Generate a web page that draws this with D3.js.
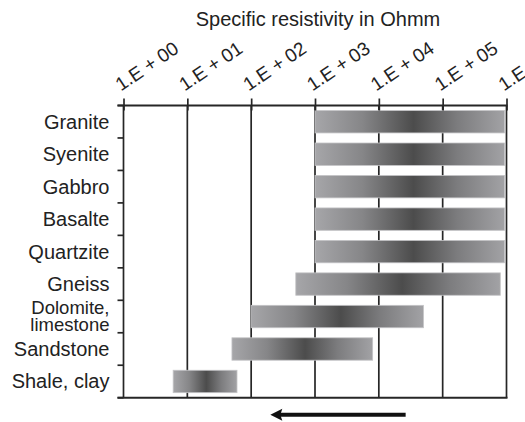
<!DOCTYPE html>
<html>
<head>
<meta charset="utf-8">
<script src="https://cdn.jsdelivr.net/npm/d3@7"></script>
<style>
  html, body { margin: 0; padding: 0; background: #fff; }
  svg { display: block; font-family: "Liberation Sans", Arial, sans-serif; }
</style>
</head>
<body>
<svg id="chart" width="525" height="422"></svg>
<script>
const categories = ["Granite", "Syenite", "Gabbro", "Basalte", "Quartzite", "Gneiss", "Dolomite,\nlimestone", "Sandstone", "Shale, clay"];
const minValues = [1e3, 1e3, 1e3, 1e3, 1e3, 500, 100, 50, 6];
const maxValues = [9.3e5, 9.3e5, 9.3e5, 9.3e5, 9.3e5, 8e5, 5e4, 8e3, 60];
const tickValues = [1e0, 1e1, 1e2, 1e3, 1e4, 1e5, 1e6];
const tickLabels = ["1.E + 00", "1.E + 01", "1.E + 02", "1.E + 03", "1.E + 04", "1.E + 05", "1.E + 06"];
const title = "Specific resistivity in Ohmm";

const svg = d3.select("#chart");
const mLeft = 123.5, mRight = 506.5, mTop = 105.5, mBottom = 397.7;

const x = d3.scaleLog().domain([1, 1e6]).range([mLeft, mRight]);
const y = d3.scaleBand().domain(categories).range([mTop, mBottom]).paddingInner(0.31).paddingOuter(0.155);

const ink = "#262626";

// gridlines (vertical)
svg.append("g").selectAll("line").data(tickValues).join("line")
  .attr("x1", d => x(d)).attr("x2", d => x(d))
  .attr("y1", mTop).attr("y2", mBottom)
  .attr("stroke", ink).attr("stroke-width", 1.7);

// gradient
const defs = svg.append("defs");
const grad = defs.append("linearGradient").attr("id", "barGrad").attr("x1", "0").attr("x2", "1").attr("y1", "0").attr("y2", "0");
grad.append("stop").attr("offset", "0").attr("stop-color", "#a6a6a9");
grad.append("stop").attr("offset", "0.25").attr("stop-color", "#868688");
grad.append("stop").attr("offset", "0.52").attr("stop-color", "#4c4c4c");
grad.append("stop").attr("offset", "0.75").attr("stop-color", "#7c7c7e");
grad.append("stop").attr("offset", "1").attr("stop-color", "#a2a2a5");

// bars
svg.append("g").selectAll("rect").data(categories).join("rect")
  .attr("x", (d, i) => x(minValues[i]))
  .attr("width", (d, i) => x(maxValues[i]) - x(minValues[i]))
  .attr("y", d => y(d))
  .attr("height", y.bandwidth())
  .attr("fill", "url(#barGrad)")
  .attr("stroke", "#c4c4c6").attr("stroke-width", 0.8);

// top axis
const topAxis = d3.axisTop(x).tickValues(tickValues).tickFormat((d, i) => tickLabels[i]).tickSizeInner(7).tickSizeOuter(0);
const gTop = svg.append("g").attr("transform", `translate(0,${mTop})`).call(topAxis);
gTop.select(".domain").remove();
gTop.selectAll(".tick line").attr("stroke", ink).attr("stroke-width", 1.7).attr("y2", -7).attr("y1", 5);
gTop.selectAll(".tick text")
  .attr("fill", "#222").attr("font-size", 19).attr("text-anchor", "start")
  .attr("y", 0).attr("dy", 0)
  .attr("transform", "translate(-3,-14) rotate(-34)");

// horizontal frame lines (top and bottom)
svg.append("g").selectAll("line").data([mTop, mBottom]).join("line")
  .attr("x1", mLeft - 6).attr("x2", mRight + 1).attr("y1", d => d).attr("y2", d => d)
  .attr("stroke", ink).attr("stroke-width", 2);

// left category ticks at band boundaries
const boundaries = d3.range(categories.length + 1).map(i => mTop + i * (mBottom - mTop) / categories.length);
svg.append("g").selectAll("line").data(boundaries).join("line")
  .attr("x1", mLeft - 6).attr("x2", mLeft).attr("y1", d => d).attr("y2", d => d)
  .attr("stroke", ink).attr("stroke-width", 1.7);

// category labels
const lab = svg.append("g").selectAll("text").data(categories).join("text")
  .attr("text-anchor", "end").attr("font-size", 20).attr("fill", "#222")
  .attr("x", mLeft - 14);
lab.each(function(d) {
  const t = d3.select(this);
  const c = y(d) + y.bandwidth() / 2;
  const lines = d.split("\n");
  if (lines.length === 1) {
    t.attr("y", c).attr("dy", "0.35em").text(d);
  } else {
    t.attr("font-size", 18.5);
    t.append("tspan").attr("x", mLeft - 14).attr("y", c - 3).text(lines[0]);
    t.append("tspan").attr("x", mLeft - 14).attr("y", c + 14).text(lines[1]);
  }
});

// title
svg.append("text").attr("x", (mLeft + mRight) / 2 + 3).attr("y", 26)
  .attr("text-anchor", "middle").attr("font-size", 20).attr("fill", "#222").text(title);

// arrow (decorative, pointing toward lower resistivity)
const ay = mBottom + 17;
const ax0 = x(10 ** 2.3), ax1 = x(10 ** 4.42);
svg.append("line").attr("x1", ax0 + 8).attr("x2", ax1).attr("y1", ay).attr("y2", ay)
  .attr("stroke", "#111").attr("stroke-width", 4);
svg.append("path")
  .attr("d", `M${ax0},${ay} L${ax0 + 12},${ay - 6} L${ax0 + 10},${ay} L${ax0 + 12},${ay + 6} Z`)
  .attr("fill", "#111");
</script>
</body>
</html>
